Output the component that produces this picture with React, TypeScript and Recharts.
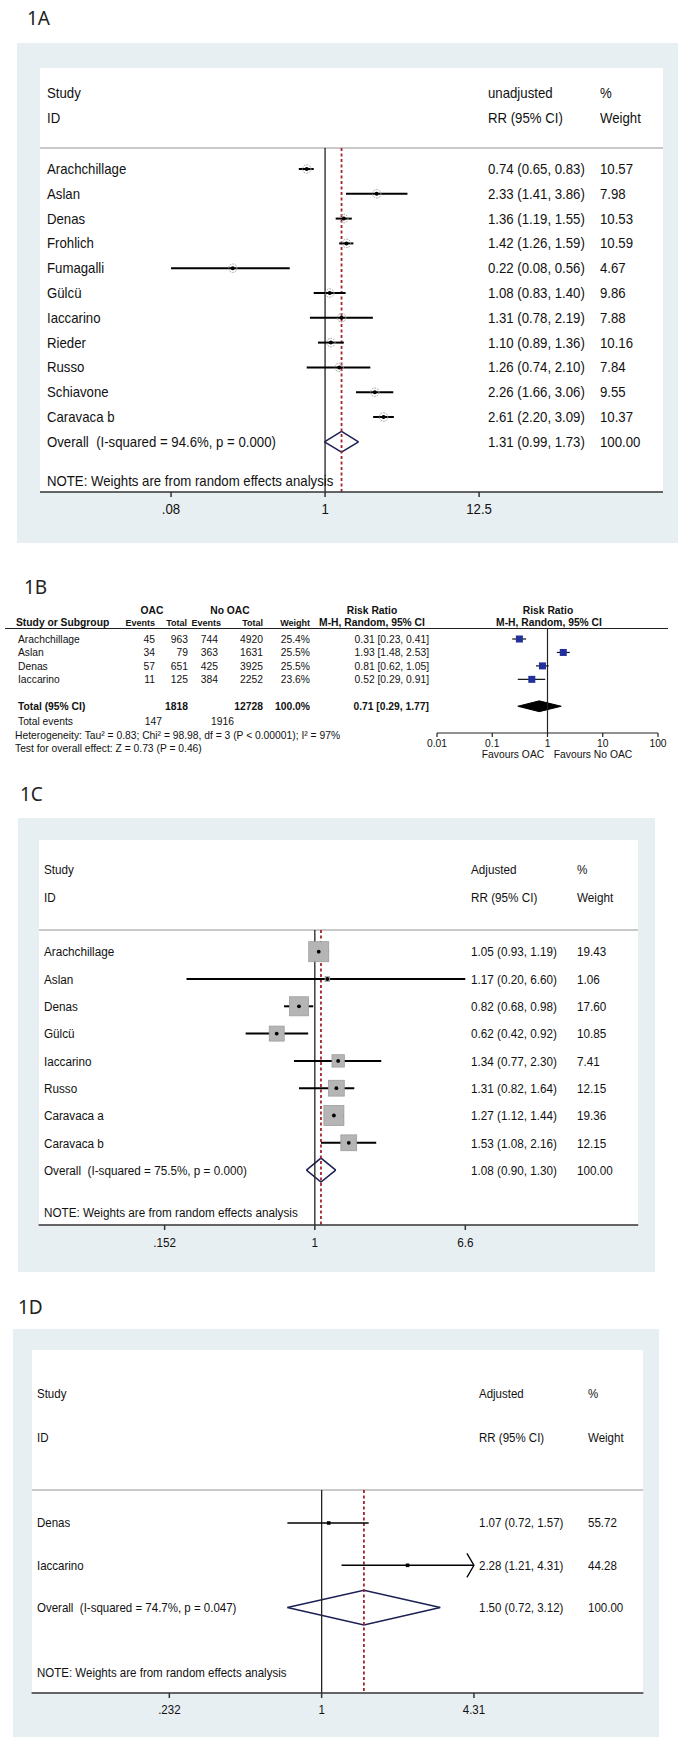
import { ComposedChart, XAxis, YAxis, Scatter, ErrorBar, Area, ReferenceLine } from 'recharts';

const SANS = '"Liberation Sans", Arial, sans-serif';
const LABEL_FONT = '"Noto Sans", sans-serif';
const PANEL_BG = '#e8eff2';
const NAVY = '#1b1f55';
const RED = '#a3262f';
const PAGE_W = 685;

// ---------- 1A: unadjusted RR ----------
const studiesA = ['Arachchillage', 'Aslan', 'Denas', 'Frohlich', 'Fumagalli', 'Gülcü', 'Iaccarino', 'Rieder', 'Russo', 'Schiavone', 'Caravaca b'];
const rrA = [0.74, 2.33, 1.36, 1.42, 0.22, 1.08, 1.31, 1.10, 1.26, 2.26, 2.61];
const loA = [0.65, 1.41, 1.19, 1.26, 0.08, 0.83, 0.78, 0.89, 0.74, 1.66, 2.20];
const hiA = [0.83, 3.86, 1.55, 1.59, 0.56, 1.40, 2.19, 1.36, 2.10, 3.06, 3.09];
const weightA = [10.57, 7.98, 10.53, 10.59, 4.67, 9.86, 7.88, 10.16, 7.84, 9.55, 10.37];
const overallA = [1.31, 0.99, 1.73];
const overallLabelA = 'Overall  (I-squared = 94.6%, p = 0.000)';
const ticksA = [0.08, 1, 12.5];

// ---------- 1B: RevMan table ----------
const studiesB = ['Arachchillage', 'Aslan', 'Denas', 'Iaccarino'];
const oacEventsB = [45, 34, 57, 11];
const oacTotalB = [963, 79, 651, 125];
const noOacEventsB = [744, 363, 425, 384];
const noOacTotalB = [4920, 1631, 3925, 2252];
const weightB = [25.4, 25.5, 25.5, 23.6];
const rrB = [0.31, 1.93, 0.81, 0.52];
const loB = [0.23, 1.48, 0.62, 0.29];
const hiB = [0.41, 2.53, 1.05, 0.91];
const totalB = [0.71, 0.29, 1.77];
const totalOacB = 1818;
const totalNoOacB = 12728;
const totalEventsB = [147, 1916];
const heterogeneityB = 'Heterogeneity: Tau² = 0.83; Chi² = 98.98, df = 3 (P < 0.00001); I² = 97%';
const overallTestB = 'Test for overall effect: Z = 0.73 (P = 0.46)';
const ticksB = [0.01, 0.1, 1, 10, 100];

// ---------- 1C: adjusted RR ----------
const studiesC = ['Arachchillage', 'Aslan', 'Denas', 'Gülcü', 'Iaccarino', 'Russo', 'Caravaca a', 'Caravaca b'];
const rrC = [1.05, 1.17, 0.82, 0.62, 1.34, 1.31, 1.27, 1.53];
const loC = [0.93, 0.20, 0.68, 0.42, 0.77, 0.82, 1.12, 1.08];
const hiC = [1.19, 6.60, 0.98, 0.92, 2.30, 1.64, 1.44, 2.16];
const weightC = [19.43, 1.06, 17.60, 10.85, 7.41, 12.15, 19.36, 12.15];
const overallC = [1.08, 0.90, 1.30];
const overallLabelC = 'Overall  (I-squared = 75.5%, p = 0.000)';
const ticksC = [0.152, 1, 6.6];

// ---------- 1D: adjusted RR ----------
const studiesD = ['Denas', 'Iaccarino'];
const rrD = [1.07, 2.28];
const loD = [0.72, 1.21];
const hiD = [1.57, 4.31];
const weightD = [55.72, 44.28];
const arrowD = ['Iaccarino'];
const overallD = [1.50, 0.72, 3.12];
const overallLabelD = 'Overall  (I-squared = 74.7%, p = 0.047)';
const ticksD = [0.232, 1, 4.31];

// page layout of the Stata panels (pixels)
const layoutA = {
  label: '1A', labelX: 27, labelY: 18,
  bg: [17, 43, 661, 500], white: [40, 68, 623], axisY: 492,
  headY: [93, 118], grayY: 148, row0: 169, step: 24.8, noteY: 481,
  cols: [47, 488, 600], font: 14.2, sx: 0.93, domain: [0.00933, 255],
  lineW: 2, diamondH: 0.42,
};
const layoutC = {
  label: '1C', labelX: 20, labelY: 794,
  bg: [17.5, 818, 637, 454], white: [38.6, 840, 599.6], axisY: 1225,
  headY: [869, 897], grayY: 930, row0: 951.7, step: 27.3, noteY: 1212,
  cols: [44, 471, 577], font: 13.5, sx: 0.867, domain: [0.0313, 57.7],
  lineW: 2, diamondH: 0.44,
};
const layoutD = {
  label: '1D', labelX: 18, labelY: 1307,
  bg: [13, 1329, 646, 408], white: [31.6, 1350, 611.8], axisY: 1693,
  headY: [1394, 1438], grayY: 1490, row0: 1523, step: 42.3, noteY: 1673,
  cols: [37, 479, 588], font: 12.8, sx: 0.9, domain: [0.0619, 21.9],
  lineW: 1.5, diamondH: 0.41,
};

const ci = (r: number, l: number, h: number) => `${r.toFixed(2)} (${l.toFixed(2)}, ${h.toFixed(2)})`;
const ciBracket = (r: number, l: number, h: number) => `${r.toFixed(2)} [${l.toFixed(2)}, ${h.toFixed(2)}]`;
const stataTick = (v: number) => String(v).replace(/^0\./, '.');

function Txt({ x, y, size, sx = 1, anchor = 'start', bold = false, family = SANS, color = '#111', children }: any) {
  const tx = anchor === 'start' ? '0' : anchor === 'middle' ? '-50%' : '-100%';
  const origin = anchor === 'start' ? 'left' : anchor === 'middle' ? 'center' : 'right';
  return (
    <div
      style={{
        position: 'absolute', left: x, top: y,
        transform: `translate(${tx}, -50%) scaleX(${sx})`,
        transformOrigin: `${origin} center`,
        fontSize: size, lineHeight: 1, fontFamily: family,
        fontWeight: bold ? 700 : 400, whiteSpace: 'pre', color,
      }}
    >
      {children}
    </div>
  );
}

const RingMark = (p: any) => (
  <g>
    <circle cx={p.cx} cy={p.cy} r={4.2} fill="none" stroke="#9a9a9a" strokeWidth={1} strokeDasharray="1.6 1.1" />
    <circle cx={p.cx} cy={p.cy} r={2} fill="#000" />
  </g>
);
const SmallDot = (p: any) => <circle cx={p.cx} cy={p.cy} r={1.9} fill="#000" />;
const TinySquare = (p: any) => <rect x={p.cx - 1.8} y={p.cy - 1.8} width={3.6} height={3.6} fill="#000" />;
const WeightBox = (p: any) => {
  const side = 4.54 * Math.sqrt(p.payload.w);
  return <rect x={p.cx - side / 2} y={p.cy - side / 2} width={side} height={side} fill="#b5b5b5" stroke="#9c9c9c" strokeWidth={0.8} />;
};
const ArrowHead = (p: any) => (
  <path d={`M${p.cx - 7},${p.cy - 12} L${p.cx},${p.cy} L${p.cx - 7},${p.cy + 12}`} fill="none" stroke="#000" strokeWidth={1.3} />
);

function StataForest({ L, studies, rr, lo, hi, weight, overall, overallLabel, effectHead, ticks, marker, arrows = [] }: any) {
  const n = studies.length;
  const toV = (py: number) => 1 + (py - L.row0) / L.step;
  const v0 = toV(L.white[1]);
  const v1 = toV(L.axisY);
  const grayV = toV(L.grayY);
  const oy = n + 1;
  const h = L.axisY - L.white[1];

  const pts = studies.map((s: string, i: number) => ({
    x: rr[i], y: i + 1, w: weight[i], err: [rr[i] - lo[i], hi[i] - rr[i]],
  }));
  const arrowPts = studies
    .map((s: string, i: number) => ({ s, x: hi[i], y: i + 1 }))
    .filter((p: any) => arrows.includes(p.s));
  const diamond = [
    { x: overall[1], band: [oy, oy] },
    { x: overall[0], band: [oy - L.diamondH, oy + L.diamondH] },
    { x: overall[2], band: [oy, oy] },
  ];
  const lines = [
    { v: toV(L.headY[0]), cells: ['Study', effectHead, '%'] },
    { v: toV(L.headY[1]), cells: ['ID', 'RR (95% CI)', 'Weight'] },
    ...studies.map((s: string, i: number) => ({ v: i + 1, cells: [s, ci(rr[i], lo[i], hi[i]), weight[i].toFixed(2)] })),
    { v: oy, cells: [overallLabel, ci(overall[0], overall[1], overall[2]), '100.00'] },
    { v: toV(L.noteY), cells: ['NOTE: Weights are from random effects analysis', '', ''] },
  ];

  const rowTick = (p: any) => {
    const line = lines.find((l) => Math.abs(l.v - p.payload.value) < 1e-6);
    if (!line) return <g />;
    return (
      <g>
        {line.cells.map((c: string, k: number) => (
          <text
            key={k}
            transform={`translate(${L.cols[k]},${p.y}) scale(${L.sx},1)`}
            dy="0.35em" fontSize={L.font} fontFamily={SANS} fill="#111"
            style={{ whiteSpace: 'pre' }}
          >
            {c}
          </text>
        ))}
      </g>
    );
  };
  const axisTick = (p: any) => (
    <text
      transform={`translate(${p.x},${h + 17}) scale(${L.sx},1)`}
      textAnchor="middle" dy="0.35em" fontSize={L.font} fontFamily={SANS} fill="#111"
    >
      {stataTick(p.payload.value)}
    </text>
  );

  return (
    <>
      <div style={{ position: 'absolute', left: L.bg[0], top: L.bg[1], width: L.bg[2], height: L.bg[3], background: PANEL_BG }} />
      <div style={{ position: 'absolute', left: L.white[0], top: L.white[1], width: L.white[2], height: h, background: '#fff' }} />
      <div style={{ position: 'absolute', left: L.white[0], top: L.grayY - 1, width: L.white[2], height: 2, background: '#c9c9c9' }} />
      <Txt x={L.labelX} y={L.labelY} size={19} family={LABEL_FONT} color="#222">{L.label}</Txt>
      <div style={{ position: 'absolute', left: 0, top: L.white[1] }}>
        <ComposedChart
          width={PAGE_W}
          height={h + 40}
          data={diamond}
          margin={{ top: 0, right: PAGE_W - L.white[0] - L.white[2], bottom: 0, left: L.white[0] - 1 }}
        >
          <XAxis
            type="number" dataKey="x" scale="log" domain={L.domain} allowDataOverflow
            ticks={ticks} interval={0} height={40} tickSize={5} tickMargin={0}
            axisLine={{ stroke: '#333', strokeWidth: 1.5 }}
            tickLine={{ stroke: '#333', strokeWidth: 1.5 }}
            tick={axisTick}
          />
          <YAxis
            type="number" dataKey="y" domain={[v0, v1]} reversed allowDataOverflow width={1}
            ticks={lines.map((l) => l.v)} interval={0} axisLine={false} tickLine={false}
            tick={rowTick}
          />
          <ReferenceLine segment={[{ x: 1, y: grayV }, { x: 1, y: v1 }]} stroke="#222" strokeWidth={1.3} />
          <ReferenceLine
            segment={[{ x: overall[0], y: grayV }, { x: overall[0], y: v1 }]}
            stroke={RED} strokeWidth={1.8} strokeDasharray="3 2.5"
          />
          {marker === 'box' && <Scatter data={pts} shape={WeightBox} isAnimationActive={false} />}
          <Scatter
            data={pts}
            shape={marker === 'ring' ? RingMark : marker === 'box' ? SmallDot : TinySquare}
            isAnimationActive={false}
          >
            <ErrorBar dataKey="err" direction="x" width={0} stroke="#000" strokeWidth={L.lineW} isAnimationActive={false} />
          </Scatter>
          {arrowPts.length > 0 && <Scatter data={arrowPts} shape={ArrowHead} isAnimationActive={false} />}
          <Area
            dataKey="band" type="linear" stroke={NAVY} strokeWidth={1.5} fill="none"
            dot={false} activeDot={false} isAnimationActive={false}
          />
        </ComposedChart>
      </div>
    </>
  );
}

function RevManForest() {
  const top = 628;
  const axisY = 733;
  const row0 = 639;
  const step = 13.45;
  const toV = (py: number) => 1 + (py - row0) / step;
  const v0 = toV(top);
  const v1 = toV(axisY);
  const ty = studiesB.length + 2;
  const h = axisY - top;
  const fs = 10.3;
  const hs = 9;

  const pts = studiesB.map((s, i) => ({ x: rrB[i], y: i + 1, err: [rrB[i] - loB[i], hiB[i] - rrB[i]] }));
  const diamond = [
    { x: totalB[1], band: [ty, ty] },
    { x: totalB[0], band: [ty - 0.4, ty + 0.4] },
    { x: totalB[2], band: [ty, ty] },
  ];
  const colX = [18, 155, 188, 218, 263, 310, 429];
  const lines = [
    ...studiesB.map((s, i) => ({
      v: i + 1, bold: false,
      cells: [s, String(oacEventsB[i]), String(oacTotalB[i]), String(noOacEventsB[i]), String(noOacTotalB[i]),
        `${weightB[i].toFixed(1)}%`, ciBracket(rrB[i], loB[i], hiB[i])],
    })),
    {
      v: ty, bold: true,
      cells: ['Total (95% CI)', '', String(totalOacB), '', String(totalNoOacB), '100.0%', ciBracket(totalB[0], totalB[1], totalB[2])],
    },
  ];

  const rowTick = (p: any) => {
    const line = lines.find((l) => Math.abs(l.v - p.payload.value) < 1e-6);
    if (!line) return <g />;
    return (
      <g>
        {line.cells.map((c, k) => (
          <text
            key={k} x={colX[k]} y={p.y} dy="0.35em" textAnchor={k === 0 ? 'start' : 'end'}
            fontSize={fs} fontFamily={SANS} fontWeight={line.bold ? 700 : 400} fill="#111"
          >
            {c}
          </text>
        ))}
      </g>
    );
  };
  const axisTick = (p: any) => (
    <text x={p.x} y={h + 10} dy="0.35em" textAnchor="middle" fontSize={fs} fontFamily={SANS} fill="#111">
      {String(p.payload.value)}
    </text>
  );

  return (
    <>
      <Txt x={24} y={587} size={19} family={LABEL_FONT} color="#222">1B</Txt>
      <Txt x={152} y={611} size={fs} anchor="middle" bold>OAC</Txt>
      <Txt x={230} y={611} size={fs} anchor="middle" bold>No OAC</Txt>
      <Txt x={372} y={611} size={fs} anchor="middle" bold>Risk Ratio</Txt>
      <Txt x={548} y={611} size={fs} anchor="middle" bold>Risk Ratio</Txt>
      <Txt x={16} y={623} size={fs} bold>Study or Subgroup</Txt>
      <Txt x={155} y={623} size={hs} anchor="end" bold>Events</Txt>
      <Txt x={187} y={623} size={hs} anchor="end" bold>Total</Txt>
      <Txt x={221} y={623} size={hs} anchor="end" bold>Events</Txt>
      <Txt x={263} y={623} size={hs} anchor="end" bold>Total</Txt>
      <Txt x={310} y={623} size={hs} anchor="end" bold>Weight</Txt>
      <Txt x={372} y={623} size={fs} anchor="middle" bold>M-H, Random, 95% CI</Txt>
      <Txt x={549} y={623} size={fs} anchor="middle" bold>M-H, Random, 95% CI</Txt>
      <div style={{ position: 'absolute', left: 5, top: 627.5, width: 663, height: 1, background: '#222' }} />
      <Txt x={18} y={722} size={fs}>Total events</Txt>
      <Txt x={162} y={722} size={fs} anchor="end">{String(totalEventsB[0])}</Txt>
      <Txt x={234} y={722} size={fs} anchor="end">{String(totalEventsB[1])}</Txt>
      <Txt x={15} y={736} size={fs}>{heterogeneityB}</Txt>
      <Txt x={15} y={749} size={fs}>{overallTestB}</Txt>
      <Txt x={513} y={755} size={fs} anchor="middle">Favours OAC</Txt>
      <Txt x={593} y={755} size={fs} anchor="middle">Favours No OAC</Txt>
      <div style={{ position: 'absolute', left: 0, top }}>
        <ComposedChart width={PAGE_W} height={h + 30} data={diamond} margin={{ top: 0, right: 27, bottom: 0, left: 436 }}>
          <XAxis
            type="number" dataKey="x" scale="log" domain={[0.01, 100]} allowDataOverflow
            ticks={ticksB} interval={0} height={30} tickSize={4} tickMargin={0}
            axisLine={{ stroke: '#222', strokeWidth: 1.2 }}
            tickLine={{ stroke: '#222', strokeWidth: 1.2 }}
            tick={axisTick}
          />
          <YAxis
            type="number" dataKey="y" domain={[v0, v1]} reversed allowDataOverflow width={1}
            ticks={lines.map((l) => l.v)} interval={0} axisLine={false} tickLine={false}
            tick={rowTick}
          />
          <ReferenceLine x={1} stroke="#222" strokeWidth={1.2} />
          <Scatter
            data={pts}
            shape={(p: any) => <rect x={p.cx - 3.5} y={p.cy - 3.5} width={7} height={7} fill="#21309a" />}
            isAnimationActive={false}
          >
            <ErrorBar dataKey="err" direction="x" width={0} stroke="#111" strokeWidth={1.2} isAnimationActive={false} />
          </Scatter>
          <Area
            dataKey="band" type="linear" stroke="#000" strokeWidth={1} fill="#000" fillOpacity={1}
            dot={false} activeDot={false} isAnimationActive={false}
          />
        </ComposedChart>
      </div>
    </>
  );
}

export default function App() {
  return (
    <div style={{ position: 'absolute', left: 0, top: 0, width: PAGE_W, height: 1746, background: '#fff', overflow: 'hidden' }}>
      <StataForest
        L={layoutA} studies={studiesA} rr={rrA} lo={loA} hi={hiA} weight={weightA}
        overall={overallA} overallLabel={overallLabelA} effectHead="unadjusted" ticks={ticksA} marker="ring"
      />
      <RevManForest />
      <StataForest
        L={layoutC} studies={studiesC} rr={rrC} lo={loC} hi={hiC} weight={weightC}
        overall={overallC} overallLabel={overallLabelC} effectHead="Adjusted" ticks={ticksC} marker="box"
      />
      <StataForest
        L={layoutD} studies={studiesD} rr={rrD} lo={loD} hi={hiD} weight={weightD}
        overall={overallD} overallLabel={overallLabelD} effectHead="Adjusted" ticks={ticksD} marker="dot"
        arrows={arrowD}
      />
    </div>
  );
}
